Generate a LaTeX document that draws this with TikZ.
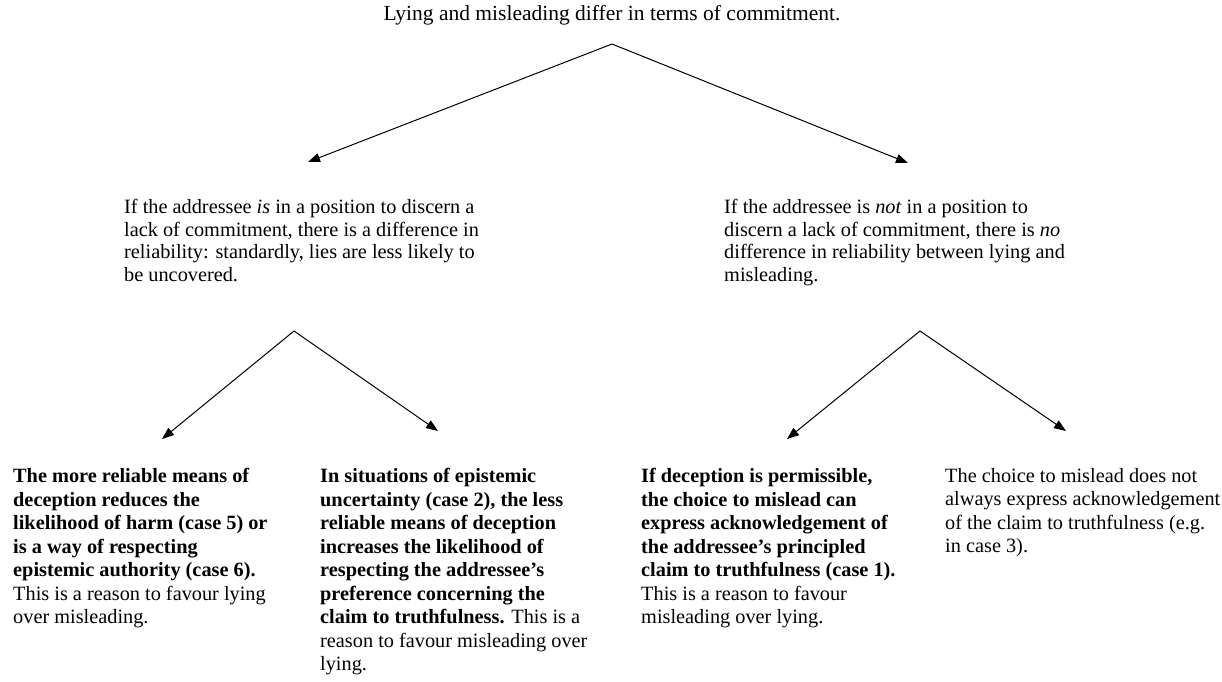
\documentclass[tikz,border=0pt]{standalone}
\usepackage{fontspec}
\setmainfont{Liberation Serif}
\usetikzlibrary{arrows.meta}
\begin{document}
\begin{tikzpicture}[x=1pt,y=-1pt,
  txt/.style={anchor=north west, inner sep=0pt, align=left, font=\fontsize{20.3}{23.5}\selectfont},
  mid/.style={anchor=north west, inner sep=0pt, align=left, font=\fontsize{20.3}{22.7}\selectfont},
  ttl/.style={anchor=base, inner sep=0pt, font=\fontsize{21.5}{23.5}\selectfont},
  arr/.style={line width=1pt, -{Triangle[length=12pt,width=9pt]}}]
\useasboundingbox (0,0) rectangle (1222,681);
% title
\node[ttl] (t) at (612,20) {Lying and misleading differ in terms of commitment.};
% level 2
\node[mid] (l) at (124,199) {If the addressee \textit{is} in a position to discern a\\lack of commitment, there is a difference in\\reliability: standardly, lies are less likely to\\be uncovered.};
\node[mid] (r) at (724,199) {If the addressee is \textit{not} in a position to\\discern a lack of commitment, there is \textit{no}\\difference in reliability between lying and\\misleading.};
% level 3
\node[txt] (b1) at (13,468) {\textbf{The more reliable means of}\\\textbf{deception reduces the}\\\textbf{likelihood of harm (case 5) or}\\\textbf{is a way of respecting}\\\textbf{epistemic authority (case 6).}\\This is a reason to favour lying\\over misleading.};
\node[txt] (b2) at (320,468) {\textbf{In situations of epistemic}\\\textbf{uncertainty (case 2), the less}\\\textbf{reliable means of deception}\\\textbf{increases the likelihood of}\\\textbf{respecting the addressee’s}\\\textbf{preference concerning the}\\\textbf{claim to truthfulness.} This is a\\reason to favour misleading over\\lying.};
\node[txt] (b3) at (641,468) {\textbf{If deception is permissible,}\\\textbf{the choice to mislead can}\\\textbf{express acknowledgement of}\\\textbf{the addressee’s principled}\\\textbf{claim to truthfulness (case 1).}\\This is a reason to favour\\misleading over lying.};
\node[txt] (b4) at (945,468) {The choice to mislead does not\\always express acknowledgement\\of the claim to truthfulness (e.g.\\in case 3).};
% connector points
\coordinate (a0) at (612,44);
\coordinate (tl) at (308,162);
\coordinate (tr) at (908,163);
\coordinate (a1) at (294,331);
\coordinate (t1) at (162,439);
\coordinate (t2) at (438,431);
\coordinate (a2) at (920,331);
\coordinate (t3) at (787,439);
\coordinate (t4) at (1066,431);
\draw[arr] (a0) -- (tl);
\draw[arr] (a0) -- (tr);
\draw[arr] (a1) -- (t1);
\draw[arr] (a1) -- (t2);
\draw[arr] (a2) -- (t3);
\draw[arr] (a2) -- (t4);
\end{tikzpicture}
\end{document}
